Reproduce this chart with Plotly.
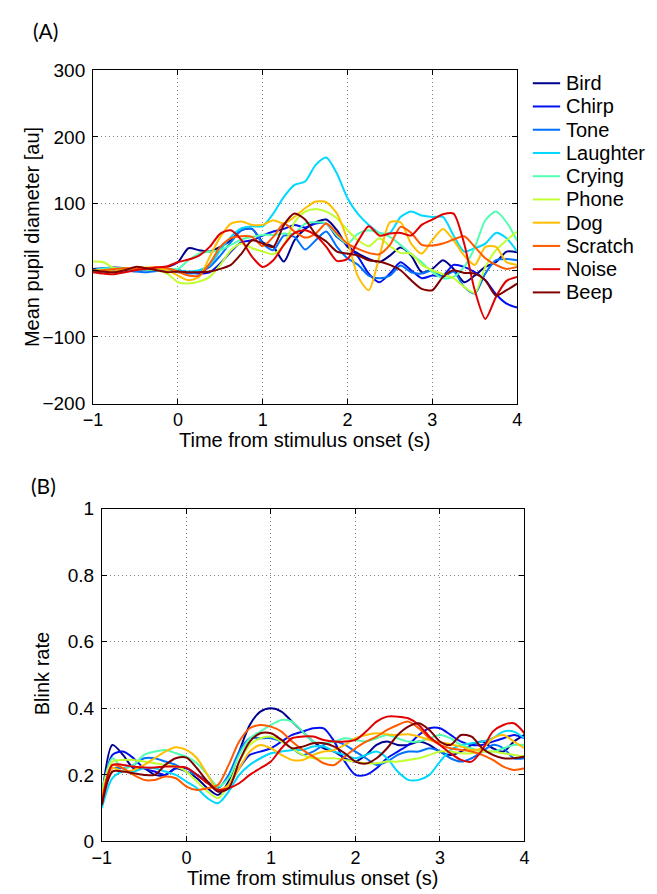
import plotly.graph_objects as go

# ---------------- data ----------------
t = [i * 0.125 - 1 for i in range(41)]  # -1 .. 4 s

names = ["Bird", "Chirp", "Tone", "Laughter", "Crying", "Phone", "Dog", "Scratch", "Noise", "Beep"]
colors = ["#00008F", "#0010F0", "#0070FF", "#00D8FF", "#50FFB0",
          "#C0FF30", "#FFBF00", "#FF5A00", "#E00000", "#800000"]

# (A) mean pupil diameter [au]
pupil_bird = [2, 3, 4, 3, 2, 2, 3, 5, 12, 33, 30, 28, 35, 45, 60, 62, 42, 35, 13, 45, 62, 72, 76, 60, 35, 25, 17, 12, 22, 34, 22, -3, 2, 15, 2, -18, -8, 5, 12, 28, 27]
pupil_chirp = [0, 1, 2, 1, 0, 1, 2, 2, 0, -3, -5, -3, 10, 28, 42, 45, 52, 58, 62, 68, 64, 70, 70, 50, 38, 20, -5, -18, -5, 12, 0, -12, -8, -8, 8, 5, -3, -15, -36, -50, -56]
pupil_tone = [-3, -2, 0, 0, -2, -3, -1, 0, -3, -5, -3, 5, 22, 42, 60, 62, 40, 30, 52, 50, 31, 45, 58, 35, 18, 8, -8, -12, -8, 7, -3, -5, 0, -10, -2, -25, -35, -5, 15, 17, 15]
pupil_laughter = [0, 3, 3, 2, 0, 1, 2, 2, 0, -2, 0, 8, 30, 50, 63, 66, 66, 85, 110, 128, 133, 158, 169, 145, 108, 84, 68, 56, 56, 80, 88, 82, 80, 80, 52, 28, 33, 40, 56, 48, 28]
pupil_crying = [0, 2, 3, 3, 2, 1, 1, 2, 2, 15, 25, 28, 30, 38, 46, 50, 53, 53, 55, 55, 70, 72, 70, 52, 40, 55, 60, 56, 50, 38, 24, 12, -3, -12, -10, 5, 34, 75, 88, 72, 44]
pupil_phone = [13, 12, 3, 2, 3, 2, 0, -5, -18, -20, -17, -10, 8, 30, 40, 33, 28, 24, 38, 72, 88, 92, 88, 78, 60, 45, 36, 48, 36, 26, 25, 8, 0, -6, -12, -25, -34, 5, 30, 45, 58]
pupil_dog = [0, 0, -2, 2, 3, 4, 3, 0, -8, -15, -10, 20, 50, 70, 73, 68, 68, 75, 70, 80, 93, 103, 102, 85, 45, -10, -30, 20, 72, 72, 40, 25, 45, 62, 45, 22, 8, 35, 35, 12, 8]
pupil_scratch = [-2, 0, 2, 3, 2, 3, 5, 3, -2, -8, -8, 10, 35, 48, 51, 50, 36, 50, 70, 58, 49, 55, 70, 55, 40, 32, 26, 24, 38, 65, 56, 38, 37, 40, 46, 51, 35, 18, 8, 2, 5]
pupil_noise = [-3, -5, -6, -3, 0, 2, 4, 6, 12, 16, 22, 35, 55, 60, 45, 20, 5, 15, 38, 56, 60, 52, 35, 14, 17, 44, 66, 52, 55, 56, 52, 68, 76, 84, 85, 40, -30, -73, -40, -16, -10]
pupil_beep = [0, -2, -3, 0, 5, 3, 0, -3, -2, -3, -3, -2, 2, 8, 25, 45, 40, 35, 68, 85, 76, 54, 43, 28, 25, 22, 15, 13, 8, 0, -15, -28, -30, -10, 0, -4, -5, -15, -38, -30, -20]

# (B) blink rate
blink_bird = [0.13, 0.29, 0.26, 0.22, 0.22, 0.20, 0.20, 0.22, 0.21, 0.19, 0.16, 0.14, 0.18, 0.27, 0.35, 0.39, 0.40, 0.39, 0.36, 0.33, 0.30, 0.28, 0.27, 0.25, 0.24, 0.26, 0.29, 0.30, 0.29, 0.29, 0.30, 0.29, 0.27, 0.26, 0.27, 0.29, 0.30, 0.28, 0.27, 0.30, 0.32]
blink_chirp = [0.12, 0.26, 0.27, 0.25, 0.22, 0.21, 0.20, 0.22, 0.22, 0.20, 0.18, 0.15, 0.17, 0.22, 0.26, 0.27, 0.28, 0.30, 0.32, 0.33, 0.34, 0.34, 0.30, 0.24, 0.20, 0.20, 0.22, 0.25, 0.27, 0.29, 0.32, 0.34, 0.34, 0.32, 0.30, 0.29, 0.29, 0.30, 0.31, 0.32, 0.31]
blink_tone = [0.12, 0.22, 0.22, 0.23, 0.25, 0.25, 0.24, 0.23, 0.21, 0.20, 0.18, 0.16, 0.20, 0.27, 0.31, 0.31, 0.31, 0.30, 0.28, 0.26, 0.27, 0.29, 0.30, 0.29, 0.27, 0.25, 0.23, 0.24, 0.26, 0.27, 0.27, 0.28, 0.27, 0.25, 0.24, 0.25, 0.27, 0.29, 0.28, 0.25, 0.25]
blink_laughter = [0.10, 0.19, 0.21, 0.21, 0.22, 0.22, 0.21, 0.20, 0.18, 0.16, 0.13, 0.115, 0.15, 0.20, 0.23, 0.25, 0.265, 0.27, 0.275, 0.275, 0.285, 0.285, 0.27, 0.26, 0.25, 0.26, 0.27, 0.25, 0.21, 0.185, 0.185, 0.20, 0.24, 0.275, 0.29, 0.295, 0.30, 0.31, 0.33, 0.33, 0.31]
blink_crying = [0.15, 0.25, 0.22, 0.23, 0.26, 0.27, 0.275, 0.265, 0.255, 0.235, 0.20, 0.165, 0.19, 0.26, 0.31, 0.33, 0.35, 0.365, 0.36, 0.33, 0.30, 0.295, 0.30, 0.31, 0.305, 0.30, 0.31, 0.32, 0.31, 0.30, 0.30, 0.31, 0.32, 0.31, 0.29, 0.28, 0.27, 0.27, 0.28, 0.29, 0.29]
blink_phone = [0.14, 0.24, 0.245, 0.245, 0.24, 0.235, 0.23, 0.225, 0.21, 0.18, 0.15, 0.13, 0.17, 0.24, 0.29, 0.31, 0.315, 0.30, 0.28, 0.26, 0.25, 0.25, 0.25, 0.245, 0.24, 0.235, 0.235, 0.24, 0.24, 0.245, 0.25, 0.26, 0.27, 0.27, 0.265, 0.265, 0.27, 0.27, 0.265, 0.26, 0.255]
blink_dog = [0.14, 0.22, 0.21, 0.215, 0.23, 0.25, 0.27, 0.283, 0.275, 0.25, 0.20, 0.155, 0.17, 0.22, 0.27, 0.29, 0.28, 0.26, 0.245, 0.245, 0.26, 0.27, 0.275, 0.29, 0.31, 0.32, 0.325, 0.322, 0.32, 0.322, 0.315, 0.305, 0.298, 0.292, 0.285, 0.275, 0.28, 0.31, 0.32, 0.30, 0.28]
blink_scratch = [0.12, 0.23, 0.22, 0.20, 0.185, 0.185, 0.195, 0.19, 0.165, 0.155, 0.16, 0.17, 0.23, 0.30, 0.34, 0.35, 0.345, 0.33, 0.30, 0.275, 0.255, 0.235, 0.23, 0.255, 0.28, 0.30, 0.315, 0.335, 0.35, 0.36, 0.34, 0.31, 0.29, 0.28, 0.275, 0.27, 0.26, 0.245, 0.225, 0.215, 0.22]
blink_noise = [0.11, 0.23, 0.23, 0.225, 0.222, 0.222, 0.225, 0.225, 0.222, 0.20, 0.175, 0.155, 0.16, 0.175, 0.20, 0.22, 0.24, 0.28, 0.31, 0.315, 0.315, 0.305, 0.30, 0.30, 0.305, 0.33, 0.36, 0.375, 0.375, 0.37, 0.35, 0.315, 0.29, 0.265, 0.245, 0.24, 0.275, 0.33, 0.35, 0.355, 0.325]
blink_beep = [0.11, 0.21, 0.21, 0.205, 0.20, 0.20, 0.23, 0.25, 0.252, 0.22, 0.18, 0.15, 0.16, 0.24, 0.30, 0.325, 0.325, 0.305, 0.28, 0.285, 0.295, 0.295, 0.285, 0.265, 0.24, 0.234, 0.25, 0.28, 0.32, 0.345, 0.355, 0.335, 0.30, 0.29, 0.32, 0.315, 0.28, 0.26, 0.25, 0.25, 0.255]

pupil = [pupil_bird, pupil_chirp, pupil_tone, pupil_laughter, pupil_crying,
         pupil_phone, pupil_dog, pupil_scratch, pupil_noise, pupil_beep]
blink = [blink_bird, blink_chirp, blink_tone, blink_laughter, blink_crying,
         blink_phone, blink_dog, blink_scratch, blink_noise, blink_beep]

x_ticks = [-1, 0, 1, 2, 3, 4]
pupil_ticks = [-200, -100, 0, 100, 200, 300]
blink_ticks = [0, 0.2, 0.4, 0.6, 0.8, 1]

# ---------------- figure ----------------
W, H = 657, 894
FONT = "Liberation Sans, Arial, Helvetica, sans-serif"
fig = go.Figure()

for n, c, yv in zip(names, colors, pupil):
    fig.add_trace(go.Scatter(x=t, y=yv, name=n, mode="lines", showlegend=False,
                             line=dict(color=c, width=2, shape="spline", smoothing=0.7),
                             xaxis="x", yaxis="y"))
for n, c, yv in zip(names, colors, blink):
    fig.add_trace(go.Scatter(x=t, y=yv, name=n, mode="lines", showlegend=False,
                             line=dict(color=c, width=2, shape="spline", smoothing=0.8),
                             xaxis="x2", yaxis="y2"))

axis_common = dict(showline=True, linecolor="black", linewidth=1, mirror="ticks",
                   ticks="inside", ticklen=5, tickcolor="black",
                   showgrid=True, gridcolor="#808080", griddash="1px,3px", gridwidth=1,
                   zeroline=False)
xfont = dict(family=FONT, size=18, color="black")
yfont = dict(family=FONT, size=19, color="black")

fig.update_layout(
    width=W, height=H,
    margin=dict(l=0, r=0, t=0, b=0),
    paper_bgcolor="white", plot_bgcolor="white",
    xaxis=dict(domain=[85 / W, 519 / W], range=[-1, 4], tickvals=x_ticks, anchor="y",
               ticklabelstandoff=0, tickfont=xfont, **axis_common),
    yaxis=dict(domain=[1 - 403 / H, 1 - 61.7 / H], range=[-200, 300], tickvals=pupil_ticks, anchor="x",
               ticklabelstandoff=3, tickfont=yfont, **axis_common),
    xaxis2=dict(domain=[94 / W, 526.5 / W], range=[-1, 4], tickvals=x_ticks, anchor="y2",
                ticklabelstandoff=0, tickfont=xfont, **axis_common),
    yaxis2=dict(domain=[1 - 851.5 / H, 1 - 510.5 / H], range=[0, 1], tickvals=blink_ticks, anchor="x2",
                ticklabelstandoff=3, tickfont=yfont, **axis_common),
    showlegend=False,
)

# legend for panel (A), drawn as line samples + labels
for i, (n, c) in enumerate(zip(names, colors)):
    yy = 1 - (75 + 23.8 * i) / H
    fig.add_shape(type="line", xref="paper", yref="paper",
                  x0=535 / W, x1=563 / W, y0=yy, y1=yy, line=dict(color=c, width=2))
    fig.add_annotation(text=n, x=567 / W, y=yy, xref="paper", yref="paper",
                       showarrow=False, xanchor="left", yanchor="middle",
                       font=dict(family=FONT, size=20, color="black"))

ann = [
    dict(text="Time from stimulus onset (s)", x=302 / W, y=1 - 440 / H, angle=0),
    dict(text="Mean pupil diameter [au]", x=22 / W, y=1 - 232 / H, angle=-90),
    dict(text="Time from stimulus onset (s)", x=310 / W, y=1 - 889 / H, angle=0),
    dict(text="Blink rate", x=33 / W, y=1 - 680 / H, angle=-90),
]
for a in ann:
    fig.add_annotation(text=a["text"], x=a["x"], y=a["y"], xref="paper", yref="paper",
                       showarrow=False, textangle=a["angle"], xanchor="center", yanchor="middle",
                       font=dict(family=FONT, size=20, color="black"))

for lbl, px, py in [("(A)", 36, 21), ("(B)", 34, 487)]:
    fig.add_annotation(text=lbl, x=px / W, y=1 - py / H, xref="paper", yref="paper",
                       showarrow=False, xanchor="center", yanchor="middle",
                       font=dict(family="Lato, Open Sans, sans-serif", size=21, color="black"))

fig.write_html("out.html")
